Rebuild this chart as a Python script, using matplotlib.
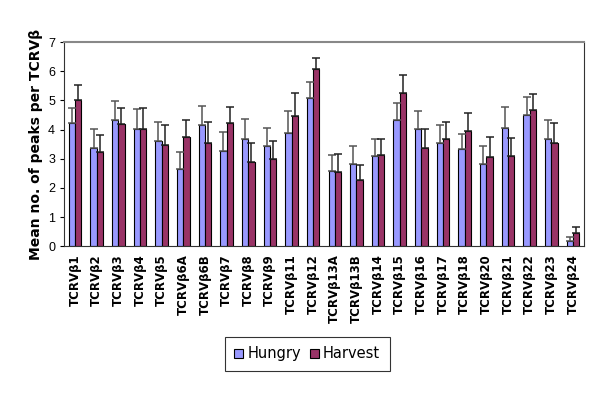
import matplotlib
matplotlib.use("Agg")
import matplotlib.pyplot as plt
import numpy as np

categories = ["TCRVβ1", "TCRVβ2", "TCRVβ3", "TCRVβ4", "TCRVβ5", "TCRVβ6A", "TCRVβ6B",
              "TCRVβ7", "TCRVβ8", "TCRVβ9", "TCRVβ11", "TCRVβ12", "TCRVβ13A", "TCRVβ13B",
              "TCRVβ14", "TCRVβ15", "TCRVβ16", "TCRVβ17", "TCRVβ18", "TCRVβ20", "TCRVβ21",
              "TCRVβ22", "TCRVβ23", "TCRVβ24"]
hungry = [4.22, 3.36, 4.34, 4.01, 3.62, 2.66, 4.14, 3.26, 3.66, 3.42, 3.89, 5.09,
          2.57, 2.83, 3.11, 4.34, 4.01, 3.53, 3.33, 2.83, 4.07, 4.51, 3.69, 0.16]
hungry_err = [0.53, 0.65, 0.65, 0.71, 0.64, 0.56, 0.67, 0.66, 0.71, 0.65, 0.76, 0.54,
              0.57, 0.61, 0.57, 0.57, 0.61, 0.64, 0.53, 0.62, 0.72, 0.61, 0.65, 0.14]
harvest = [5.03, 3.22, 4.18, 4.01, 3.47, 3.74, 3.53, 4.22, 2.87, 2.99, 4.48, 6.07,
           2.54, 2.26, 3.14, 5.27, 3.38, 3.66, 3.95, 3.05, 3.09, 4.66, 3.53, 0.45]
harvest_err = [0.51, 0.61, 0.57, 0.74, 0.70, 0.60, 0.72, 0.57, 0.68, 0.63, 0.79, 0.39,
               0.63, 0.52, 0.54, 0.59, 0.64, 0.61, 0.63, 0.69, 0.62, 0.55, 0.69, 0.21]
yticks = [0, 1, 2, 3, 4, 5, 6, 7]

plt.rcParams['font.family'] = ['DejaVu Sans']
fig = plt.figure(figsize=(6, 4.13), dpi=100)
ax = fig.add_axes([0.107, 0.404, 0.866, 0.494])

x = np.arange(len(categories))
w = 0.29
c_h = "#9999FF"
c_v = "#993366"
ax.bar(x - w/2, hungry, w, color=c_h, edgecolor="black", linewidth=0.8, label="Hungry", zorder=2)
ax.bar(x + w/2, harvest, w, color=c_v, edgecolor="black", linewidth=0.8, label="Harvest", zorder=2)
ax.errorbar(x - w/2, hungry, yerr=[np.zeros(len(x)), hungry_err], fmt="none",
            ecolor="#555555", elinewidth=1.1, capsize=3, capthick=1.1, zorder=3)
ax.errorbar(x + w/2, harvest, yerr=[np.zeros(len(x)), harvest_err], fmt="none",
            ecolor="#222222", elinewidth=1.1, capsize=3, capthick=1.1, zorder=3)

ax.set_xlim(-0.5, len(categories) - 0.5)
ax.set_ylim(0, 7)
ax.set_yticks(yticks)
ax.set_yticklabels([str(t) for t in yticks], fontsize=9, family=["Liberation Sans", "DejaVu Sans"])
ax.set_xticks(x)
ax.set_xticklabels(categories, rotation=90, fontsize=8.5, fontweight="bold")
ax.tick_params(axis="x", length=0, pad=6)
ax.tick_params(axis="y", length=3, direction="out")
ax.set_ylabel("Mean no. of peaks per TCRVβ", fontsize=10, fontweight="bold", labelpad=4)
ax.spines["top"].set_color("#888888")
ax.spines["top"].set_linewidth(1.5)
ax.spines["right"].set_color("#333333")
ax.spines["left"].set_color("#333333")
ax.spines["bottom"].set_color("#333333")

leg = fig.legend(loc="center", bbox_to_anchor=(0.512, 0.143), ncol=2,
                 prop={"family": "DejaVu Sans", "size": 10.5},
                 frameon=True, fancybox=False, edgecolor="black", handlelength=0.6,
                 handleheight=0.6, handletextpad=0.3, columnspacing=0.6, borderpad=0.65)
leg.get_frame().set_linewidth(0.8)

fig.savefig("out.png", dpi=100)
